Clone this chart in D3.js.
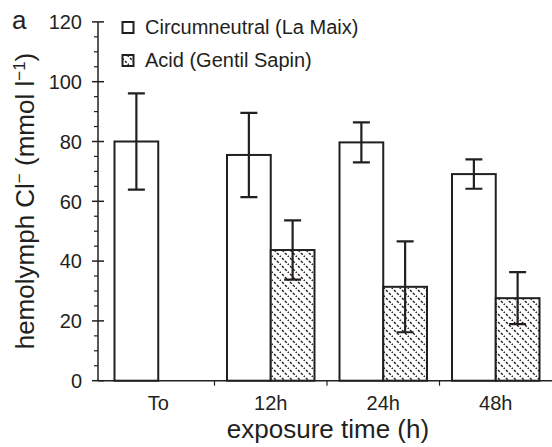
<!DOCTYPE html>
<head>
    <meta charset="utf-8">
    <style> body { margin: 0; background: #fff; } text { font-family: "Liberation Sans", Arial, sans-serif; fill: #231f20; } </style>
    <script src="https://cdnjs.cloudflare.com/ajax/libs/d3/7.8.5/d3.min.js"></script>
</head>
<body>
<div id="chart"></div>
<script>

    // data
    var categories = ["To", "12h", "24h", "48h"];
    var seriesNames = ["Circumneutral (La Maix)", "Acid (Gentil Sapin)"];
    var circumMean = [80, 75.5, 79.7, 69.1];
    var circumErr  = [16.1, 14.1, 6.7, 4.9];
    var acidMean   = [null, 43.7, 31.4, 27.6];
    var acidErr    = [null, 9.9, 15.2, 8.7];
    var yTicks = [0, 20, 40, 60, 80, 100, 120];

    var W = 552, H = 447;
    var dark = "#231f20";

    var svg = d3.select("#chart").append("svg")
        .attr("width", W)
        .attr("height", H);

    // diagonal dashed hatch, top-left to bottom-right
    var defs = svg.append("defs");
    var pat = defs.append("pattern")
        .attr("id", "hatch")
        .attr("patternUnits", "userSpaceOnUse")
        .attr("width", 8)
        .attr("height", 8);
    pat.append("rect").attr("width", 8).attr("height", 8).attr("fill", "#fff");
    pat.append("path")
        .attr("d", "M-1,-1 L9,9 M-1,7 L1,9 M7,-1 L9,1")
        .attr("stroke", dark)
        .attr("stroke-width", 1.4)
        .attr("stroke-dasharray", "2.6,1.6");

    var axisX = 98, x0 = 102, x1 = 552;

    var y = d3.scaleLinear()
        .domain([0, 120])
        .range([380.7, 21.9]);

    var xb = d3.scaleBand()
        .domain(categories)
        .range([x0, x1]);

    var xs = d3.scaleBand()
        .domain([0, 1])
        .range([12.5, xb.bandwidth() - 12.5]);

    // bars
    var data = [];
    categories.forEach(function(c, i) {
        data.push({cat: c, s: 0, v: circumMean[i], e: circumErr[i]});
        if (acidMean[i] != null) data.push({cat: c, s: 1, v: acidMean[i], e: acidErr[i]});
    });

    var bars = svg.append("g");
    bars.selectAll("rect")
        .data(data)
        .enter()
        .append("rect")
        .attr("x", d => xb(d.cat) + xs(d.s))
        .attr("y", d => y(d.v))
        .attr("width", xs.bandwidth())
        .attr("height", d => y(0) - y(d.v))
        .attr("fill", d => d.s == 0 ? "#fff" : "url(#hatch)")
        .attr("stroke", dark)
        .attr("stroke-width", 2);

    // error bars
    var errs = svg.append("g")
        .attr("stroke", dark)
        .attr("stroke-width", 2.2)
        .attr("fill", "none");

    errs.selectAll("path")
        .data(data)
        .enter()
        .append("path")
        .attr("d", function(d) {
            var cx = xb(d.cat) + xs(d.s) + xs.bandwidth() / 2;
            var t = y(d.v + d.e), b = y(d.v - d.e);
            return "M" + cx + "," + t + "V" + b +
                "M" + (cx - 8.5) + "," + t + "H" + (cx + 8.5) +
                "M" + (cx - 8.5) + "," + b + "H" + (cx + 8.5);
        });

    // y axis
    var yAx = svg.append("g");
    yAx.append("line")
        .attr("x1", axisX).attr("x2", axisX)
        .attr("y1", y(120)).attr("y2", y(0))
        .attr("stroke", dark).attr("stroke-width", 1.5);

    yAx.selectAll(".minor")
        .data(d3.range(0, 121, 5).filter(v => v % 20 != 0))
        .enter()
        .append("line")
        .attr("x1", axisX - 4).attr("x2", axisX)
        .attr("y1", d => y(d)).attr("y2", d => y(d))
        .attr("stroke", dark).attr("stroke-width", 1.2);

    yAx.selectAll(".major")
        .data(yTicks)
        .enter()
        .append("line")
        .attr("x1", axisX - 6).attr("x2", axisX + 6)
        .attr("y1", d => y(d)).attr("y2", d => y(d))
        .attr("stroke", dark).attr("stroke-width", 1.5);

    yAx.selectAll("text")
        .data(yTicks)
        .enter()
        .append("text")
        .attr("x", 82)
        .attr("y", d => y(d))
        .attr("dy", "0.36em")
        .attr("text-anchor", "end")
        .style("font-size", "20px")
        .text(d => d);

    // x axis
    var xAx = svg.append("g");
    xAx.append("line")
        .attr("x1", axisX).attr("x2", W)
        .attr("y1", y(0)).attr("y2", y(0))
        .attr("stroke", dark).attr("stroke-width", 1.5);

    xAx.selectAll(".tick")
        .data(categories.slice(1))
        .enter()
        .append("line")
        .attr("x1", d => xb(d)).attr("x2", d => xb(d))
        .attr("y1", y(0)).attr("y2", y(0) + 5)
        .attr("stroke", dark).attr("stroke-width", 1.2);

    xAx.selectAll("text")
        .data(categories)
        .enter()
        .append("text")
        .attr("x", d => xb(d) + xb.bandwidth() / 2)
        .attr("y", 410)
        .attr("text-anchor", "middle")
        .style("font-size", "20px")
        .text(d => d);

    svg.append("text")
        .attr("x", 328)
        .attr("y", 438)
        .attr("text-anchor", "middle")
        .style("font-size", "26px")
        .text("exposure time (h)");

    // y title
    var yt = svg.append("text")
        .attr("transform", "translate(34,201) rotate(-90)")
        .attr("text-anchor", "middle")
        .style("font-size", "26px");
    yt.append("tspan").text("hemolymph Cl");
    yt.append("tspan").attr("dy", -9).style("font-size", "17px").text("\u2212");
    yt.append("tspan").attr("dy", 9).text(" (mmol l");
    yt.append("tspan").attr("dy", -9).style("font-size", "17px").text("\u22121");
    yt.append("tspan").attr("dy", 9).text(")");

    // panel label
    svg.append("text")
        .attr("x", 12)
        .attr("y", 29)
        .style("font-size", "26px")
        .text("a");

    // legend
    var leg = svg.append("g");
    var legY = [22, 55];
    seriesNames.forEach(function(n, i) {
        leg.append("rect")
            .attr("x", 122.5).attr("y", legY[i])
            .attr("width", 11).attr("height", 11)
            .attr("fill", i == 0 ? "#fff" : "url(#hatch)")
            .attr("stroke", dark).attr("stroke-width", 2);
        leg.append("text")
            .attr("x", 145)
            .attr("y", legY[i] + 12)
            .style("font-size", "20px")
            .text(n);
    });

</script>
</body>
